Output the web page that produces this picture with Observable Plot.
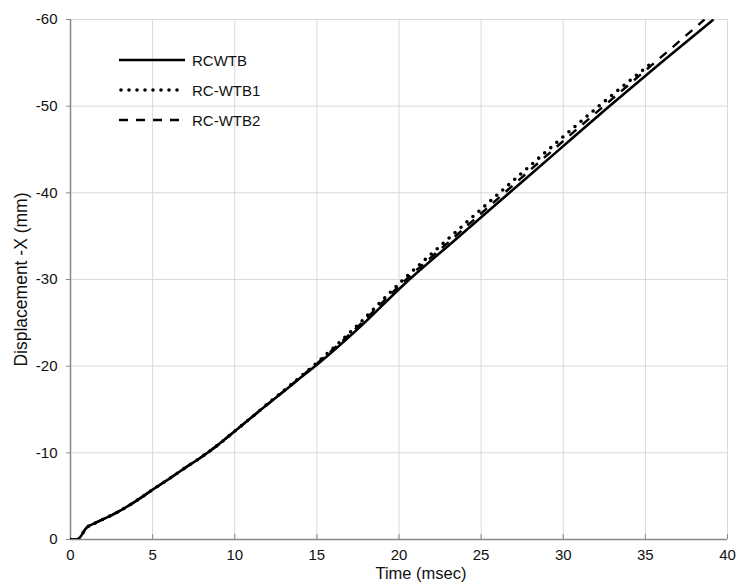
<!DOCTYPE html>
<html>
<head>
<meta charset="utf-8">
<script src="https://cdn.jsdelivr.net/npm/d3@7"></script>
<script src="https://cdn.jsdelivr.net/npm/@observablehq/plot@0.6"></script>
<style>
  body { margin: 0; background: #fff; }
  #wrap { position: relative; width: 737px; height: 582px; font-family: "Liberation Sans", Arial, sans-serif; }
  #legend { position: absolute; left: 119px; top: 45px; }
  .row { display: flex; align-items: center; height: 30px; font-size: 15px; color: #111; }
  .row svg { margin-right: 7px; }
</style>
</head>
<body>
<div id="wrap"></div>
<script>
// Tick values
const xTicks = [0, 5, 10, 15, 20, 25, 30, 35, 40];
const yTicks = [0, -10, -20, -30, -40, -50, -60];

// Series names
const seriesNames = ["RCWTB", "RC-WTB1", "RC-WTB2"];

// RCWTB (solid)
const timeRCWTB = [0, 0.4, 1.0, 1.5, 2.0, 2.5, 3.0, 4.0, 5.0, 6.0, 7.0, 8.0, 9.0, 10.0, 10.9, 12.0, 13.0, 13.8, 15.0, 17.5, 20.4, 23.5, 26.6, 29.7, 32.75, 35.95, 39.15];
const dispRCWTB = [0, 0, -1.4, -1.9, -2.35, -2.8, -3.3, -4.45, -5.75, -7.0, -8.3, -9.55, -10.95, -12.5, -13.9, -15.6, -17.1, -18.35, -20.15, -24.3, -29.6, -34.7, -39.8, -44.9, -49.9, -55.0, -60.0];

// RC-WTB1 (dotted)
const timeWTB1 = [0, 0.4, 1.0, 1.5, 2.0, 2.5, 3.0, 4.0, 5.0, 6.0, 7.0, 8.0, 9.0, 10.0, 10.9, 12.0, 13.0, 13.8, 14.85, 17.25, 20.05, 23.0, 26.0, 29.05, 32.1, 35.4];
const dispWTB1 = [0, 0, -1.4, -1.9, -2.35, -2.8, -3.3, -4.45, -5.75, -7.0, -8.3, -9.55, -10.95, -12.5, -13.9, -15.65, -17.2, -18.45, -20.15, -24.3, -29.6, -34.7, -39.8, -44.9, -49.9, -55.0];

// RC-WTB2 (dashed)
const timeWTB2 = [0, 0.4, 1.0, 1.5, 2.0, 2.5, 3.0, 4.0, 5.0, 6.0, 7.0, 8.0, 9.0, 10.0, 10.9, 12.0, 13.0, 13.8, 14.9, 17.35, 20.2, 23.25, 26.3, 29.35, 32.4, 35.55, 38.6];
const dispWTB2 = [0, 0, -1.4, -1.9, -2.35, -2.8, -3.3, -4.45, -5.75, -7.0, -8.3, -9.55, -10.95, -12.5, -13.9, -15.6, -17.15, -18.4, -20.15, -24.3, -29.6, -34.7, -39.8, -44.9, -49.9, -55.0, -60.0];

const toRows = (ts, vs) => ts.map((t, i) => ({t, v: vs[i]}));
const dRCWTB = toRows(timeRCWTB, dispRCWTB);
const dWTB1 = toRows(timeWTB1, dispWTB1);
const dWTB2 = toRows(timeWTB2, dispWTB2);

const styles = [
  {strokeWidth: 2.6, strokeDasharray: null, strokeLinecap: "butt"},
  {strokeWidth: 3.6, strokeDasharray: "0,8", strokeLinecap: "round"},
  {strokeWidth: 2.4, strokeDasharray: "9,8", strokeLinecap: "butt"}
];

const fmt = d => String(d);

const chart = Plot.plot({
  width: 737,
  height: 582,
  marginLeft: 70,
  marginRight: 10,
  marginTop: 19,
  marginBottom: 43,
  style: {fontFamily: "Liberation Sans, Arial, sans-serif", fontSize: "15px", color: "#111", background: "#fff"},
  x: {domain: [0, 40]},
  y: {domain: [0, -60]},
  marks: [
    Plot.gridX(xTicks, {stroke: "#d9d9d9", strokeOpacity: 1}),
    Plot.gridY(yTicks, {stroke: "#d9d9d9", strokeOpacity: 1}),
    Plot.axisX(xTicks, {tickSize: -5, tickPadding: 15, tickFormat: fmt, stroke: "#888", label: null, fontSize: 15}),
    Plot.axisY(yTicks, {tickSize: 4, tickPadding: 9, tickFormat: fmt, stroke: "#888", label: null, fontSize: 15}),
    Plot.ruleY([0], {stroke: "#888", strokeWidth: 1.5}),
    Plot.ruleX([0], {stroke: "#888", strokeWidth: 1.5}),
    Plot.line(dRCWTB, {x: "t", y: "v", stroke: "#000", curve: "monotone-x", clip: true, ...styles[0]}),
    Plot.line(dWTB1, {x: "t", y: "v", stroke: "#000", curve: "monotone-x", clip: true, ...styles[1]}),
    Plot.line(dWTB2, {x: "t", y: "v", stroke: "#000", curve: "monotone-x", clip: true, ...styles[2]}),
    Plot.text(["Time (msec)"], {frameAnchor: "bottom", text: d => d, textAnchor: "middle", lineAnchor: "middle", dx: 22, dy: 34, fontSize: 16.5, fill: "#111"}),
    Plot.text(["Displacement -X (mm)"], {frameAnchor: "left", text: d => d, textAnchor: "middle", lineAnchor: "middle", rotate: -90, dx: -49, fontSize: 17.5, fill: "#111"})
  ]
});

const wrap = document.getElementById("wrap");
wrap.appendChild(chart);

// Legend overlay
const legend = document.createElement("div");
legend.id = "legend";
seriesNames.forEach((name, i) => {
  const row = document.createElement("div");
  row.className = "row";
  const s = styles[i];
  row.innerHTML = `<svg width="66" height="10"><line x1="${i === 1 ? 2 : 0}" y1="5" x2="66" y2="5" stroke="#000" stroke-width="${s.strokeWidth}" ${s.strokeDasharray ? `stroke-dasharray="${s.strokeDasharray}"` : ""} stroke-linecap="${s.strokeLinecap}"/></svg><span>${name}</span>`;
  legend.appendChild(row);
});
wrap.appendChild(legend);
</script>
</body>
</html>
